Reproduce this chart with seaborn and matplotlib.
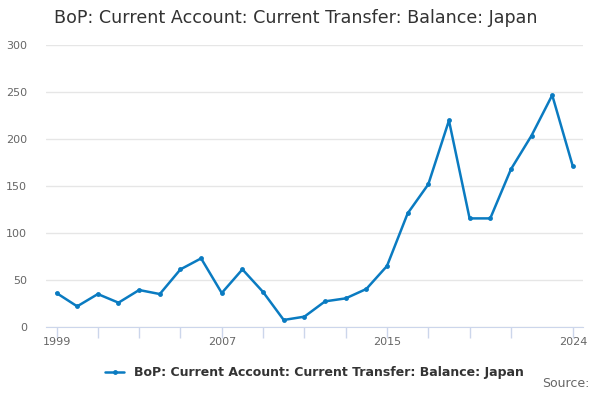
import matplotlib
matplotlib.use("Agg")
import pandas as pd
import seaborn as sns
import matplotlib.pyplot as plt

years = list(range(1999, 2025))
values = [36.2, 22.0, 35.1, 25.9, 39.4, 35.1, 61.4, 73.1, 36.2, 61.4,
          37.3, 7.5, 11.0, 27.3, 30.5, 40.5, 65.0, 121.0, 152.0, 220.0,
          115.7, 115.7, 168.0, 204.0, 247.0, 171.0]
series_name = "BoP: Current Account: Current Transfer: Balance: Japan"
tick_years = list(range(1999, 2022, 2)) + [2024]
label_years = [1999, 2007, 2015, 2024]

tabela = pd.DataFrame({"ano": years, "valor": values})

sns.set_style("white")
plt.rcParams["font.family"] = ["DejaVu Sans"]

fig = plt.figure(figsize=(6, 4), dpi=100)
ax = fig.add_axes([0.077, 0.1825, 0.895, 0.704])

cor = "#0a7bc1"
sns.lineplot(data=tabela, x="ano", y="valor", ax=ax, color=cor, linewidth=1.8,
             marker="o", markersize=3.5, markeredgewidth=0, label=series_name)

ax.set_ylim(0, 300)
ax.set_xlim(1999 - 0.5, 2024 + 0.5)
ax.set_yticks(range(0, 301, 50))
ax.yaxis.grid(True, color="#e6e6e6", linewidth=1)
ax.set_axisbelow(True)

ax.set_xticks(tick_years)
ax.set_xticklabels([str(a) if a in label_years else "" for a in tick_years])
ax.tick_params(axis="x", bottom=True, length=8, width=1, color="#ccd6eb",
               labelcolor="#666666", labelsize=8, pad=-1)
ax.tick_params(axis="y", left=False, length=0, labelcolor="#666666", labelsize=8, pad=14)

for s in ["top", "right", "left"]:
    ax.spines[s].set_visible(False)
ax.spines["bottom"].set_color("#ccd6eb")
ax.set_xlabel("")
ax.set_ylabel("")

ax.legend(loc="upper center", bbox_to_anchor=(0.5, -0.1), frameon=False,
          prop={"size": 9, "weight": "semibold"}, handlelength=1.5, labelcolor="#333333")

fig.text(0.09, 0.955, series_name, fontsize=12.6, color="#333333", va="center", ha="left")
fig.text(0.982, 0.025, "Source:", fontsize=9, color="#666666", ha="right", va="bottom")

fig.savefig("out.png", dpi=100)
